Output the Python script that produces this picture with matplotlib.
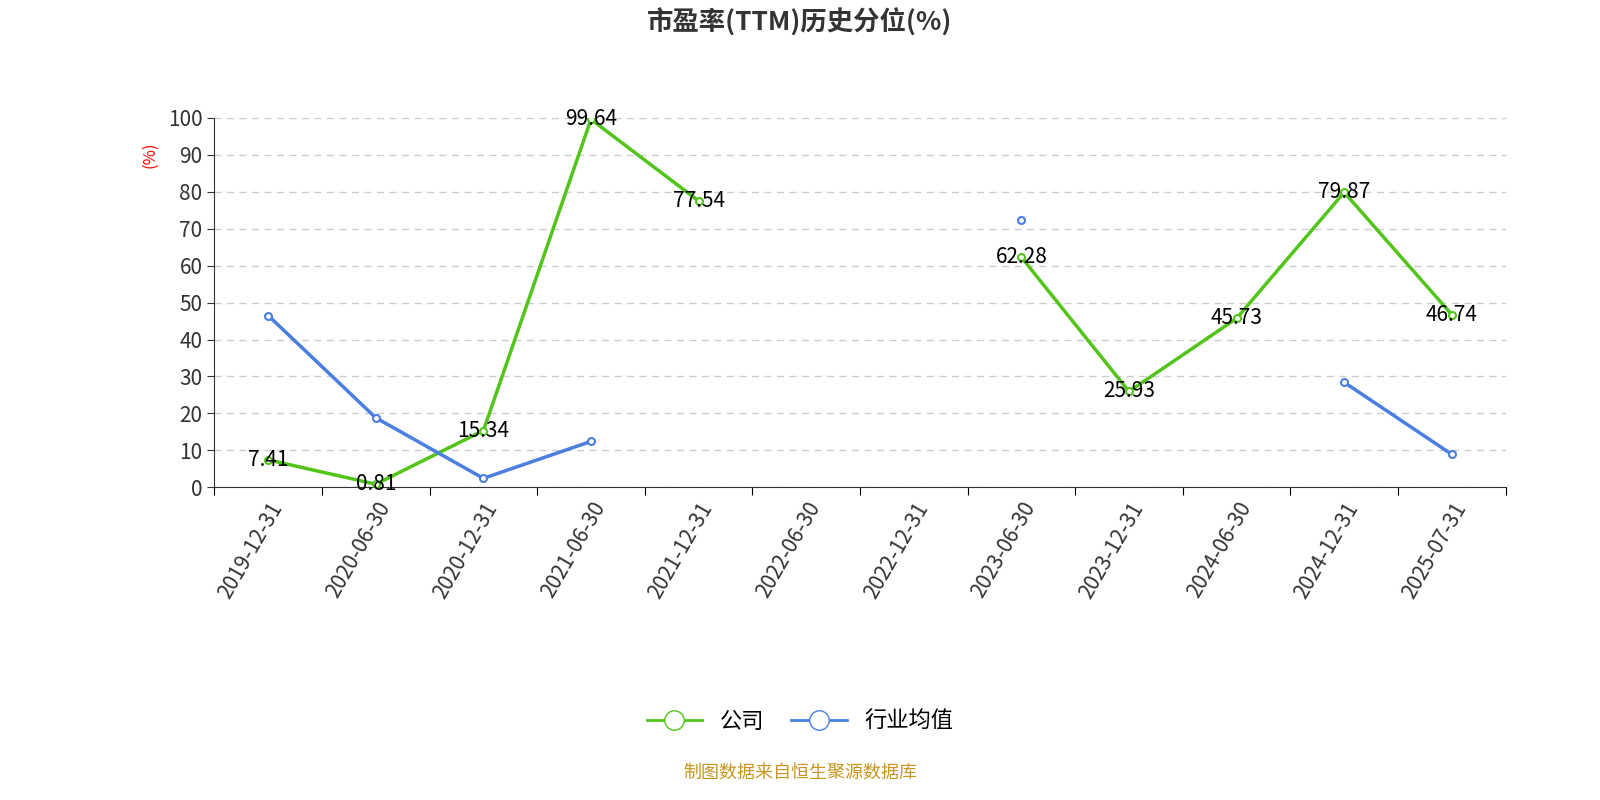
import matplotlib
matplotlib.use("Agg")
import matplotlib.pyplot as plt
import numpy as np
from matplotlib.lines import Line2D

plt.rcParams['font.family'] = ['Noto Sans CJK SC', 'DejaVu Sans']

dates = ["2019-12-31","2020-06-30","2020-12-31","2021-06-30","2021-12-31","2022-06-30",
         "2022-12-31","2023-06-30","2023-12-31","2024-06-30","2024-12-31","2025-07-31"]
company = [7.41, 0.81, 15.34, 99.64, 77.54, None, None, 62.28, 25.93, 45.73, 79.87, 46.74]
industry = [46.5, 18.8, 2.4, 12.4, None, None, None, 72.5, None, None, 28.4, 8.9]

green = "#52c41a"
blue = "#4a7ee0"

fig = plt.figure(figsize=(16, 8), dpi=100)
ax = fig.add_axes([0.134, 0.391, 0.807, 0.4615])
x = np.arange(len(dates))
c = np.array([np.nan if v is None else v for v in company])
i = np.array([np.nan if v is None else v for v in industry])

ax.plot(x, c, color=green, lw=2.5, marker='o', ms=5, mfc='white', mec=green, mew=1.5, zorder=3)
ax.plot(x, i, color=blue, lw=2.5, marker='o', ms=5, mfc='white', mec=blue, mew=1.5, zorder=3)
for xi, v in zip(x, company):
    if v is not None:
        ax.text(xi, v, f"{v:.2f}", ha='center', va='center', fontsize=15, color='black', zorder=4)

ax.set_xlim(-0.5, len(dates) - 0.5)
ax.set_ylim(0, 100)
ax.set_yticks(range(0, 101, 10))
ax.tick_params(axis='y', labelsize=15, colors='#333333', length=5)
ax.set_xticks(np.arange(-0.5, len(dates), 1), minor=False)
ax.set_xticklabels([])
ax.set_xticks(x, minor=True)
ax.set_xticklabels(dates, minor=True, rotation=60, ha='right', rotation_mode='anchor', fontsize=15, color='#333333')
ax.tick_params(axis='x', which='minor', length=0, pad=8)
ax.tick_params(axis='x', which='major', length=6)
ax.grid(axis='y', ls=(0, (5, 4)), color='#cccccc', lw=1)
for s in ['top', 'right']:
    ax.spines[s].set_visible(False)
ax.spines['left'].set_color('#333333')
ax.spines['bottom'].set_color('#333333')
ax.text(-0.05, 0.9, "(%)", transform=ax.transAxes, rotation=90, color='red', fontsize=12, ha='center', va='center')

fig.text(0.5, 0.972, "市盈率(TTM)历史分位(%)", ha='center', va='center', fontsize=19, fontweight='bold', color='#333333')
handles = [Line2D([0], [0], color=green, lw=2, marker='o', ms=14, mfc='white', mec=green),
           Line2D([0], [0], color=blue, lw=2, marker='o', ms=14, mfc='white', mec=blue)]
fig.legend(handles, ["公司", "行业均值"], loc='center', bbox_to_anchor=(0.5, 0.098), ncol=2,
           frameon=False, fontsize=16, handlelength=2.5, columnspacing=1.2)
fig.text(0.5, 0.034, "制图数据来自恒生聚源数据库", ha='center', va='center', fontsize=13, color='#c8961e')
fig.savefig("out.png", dpi=100)
